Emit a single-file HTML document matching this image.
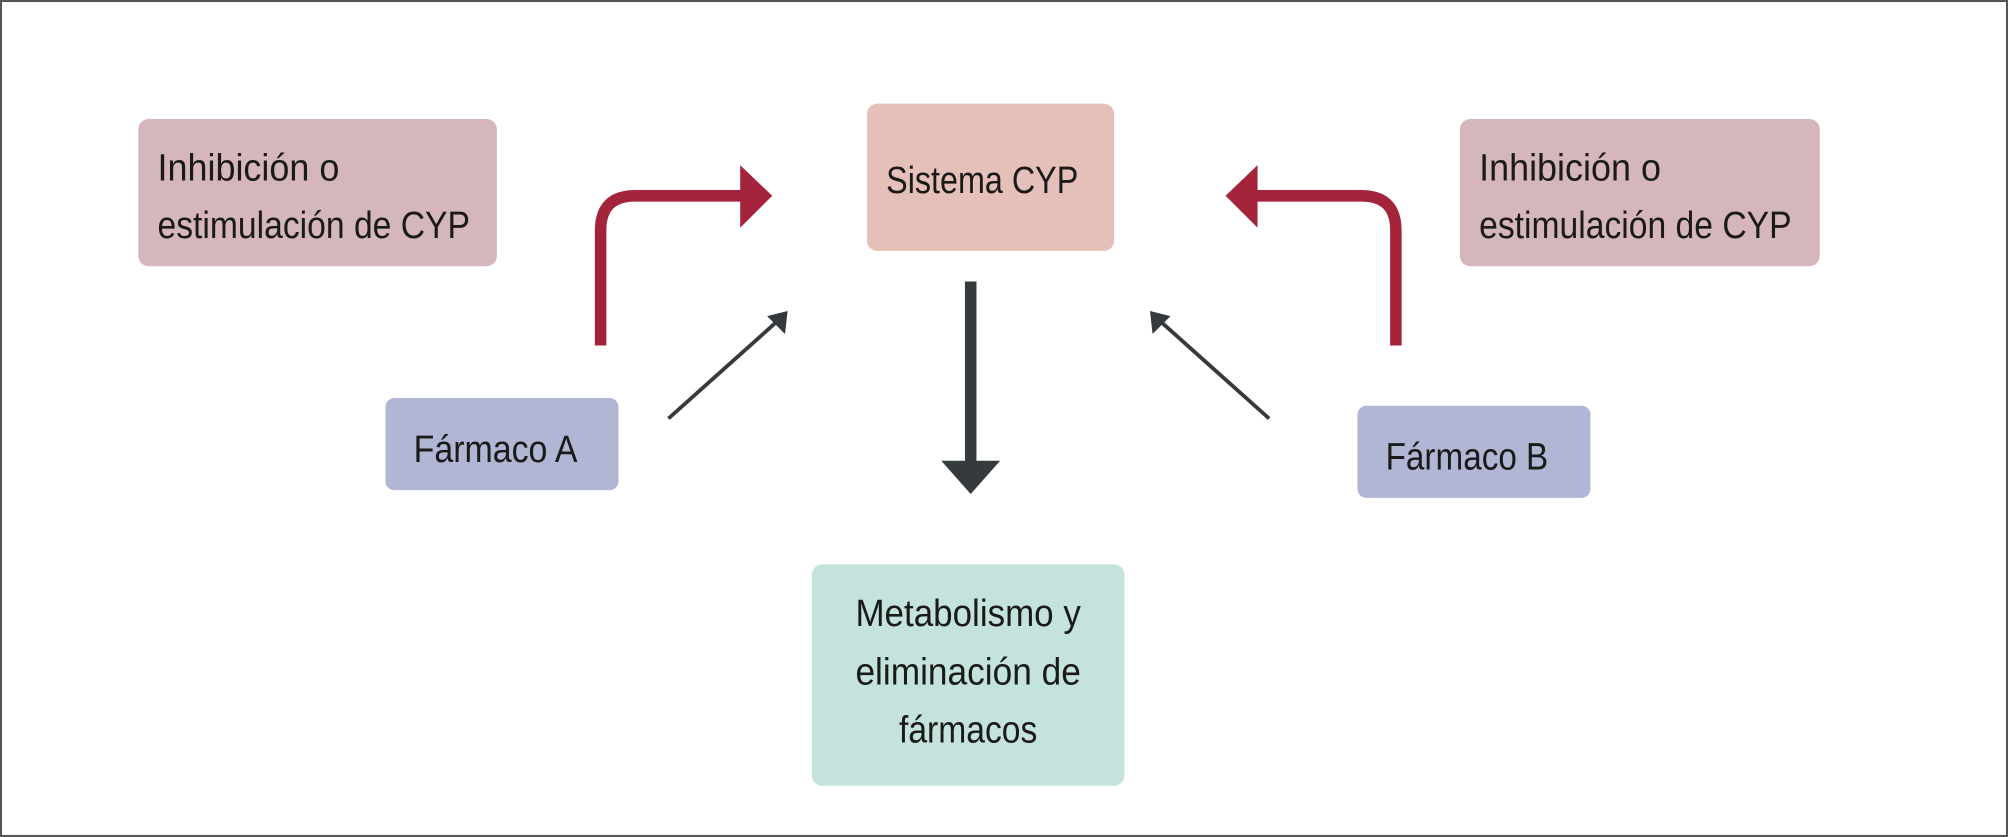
<!DOCTYPE html>
<html><head><meta charset="utf-8"><style>
html,body{margin:0;padding:0;background:#fff;}
svg{display:block;}
text{font-family:"Liberation Sans Narrow","Liberation Sans",sans-serif;font-size:30px;fill:#1a1a1a;}
</style></head><body>
<svg width="2008" height="837" viewBox="0 0 1568 654" preserveAspectRatio="none" xmlns="http://www.w3.org/2000/svg">
<rect x="0.8" y="0.8" width="1566.4" height="652.4" fill="#fff" stroke="#555" stroke-width="1.6"/>
<rect x="108" y="93" width="280" height="115" rx="8" fill="#d4b6bb"/>
<text x="123" y="141" textLength="142" lengthAdjust="spacingAndGlyphs">Inhibición o</text>
<text x="123" y="186" textLength="244" lengthAdjust="spacingAndGlyphs">estimulación de CYP</text>
<rect x="1140" y="93" width="281" height="115" rx="8" fill="#d4b6bb"/>
<text x="1155" y="141" textLength="142" lengthAdjust="spacingAndGlyphs">Inhibición o</text>
<text x="1155" y="186" textLength="244" lengthAdjust="spacingAndGlyphs">estimulación de CYP</text>
<rect x="677" y="81" width="193" height="115" rx="8" fill="#e5c0b8"/>
<text x="692" y="151" textLength="150" lengthAdjust="spacingAndGlyphs">Sistema CYP</text>
<rect x="301" y="311" width="182" height="72" rx="7" fill="#b0b6d3"/>
<text x="323" y="361" textLength="128" lengthAdjust="spacingAndGlyphs">Fármaco A</text>
<rect x="1060" y="317" width="182" height="72" rx="7" fill="#b0b6d3"/>
<text x="1082" y="367" textLength="127" lengthAdjust="spacingAndGlyphs">Fármaco B</text>
<rect x="634" y="441" width="244" height="173" rx="8" fill="#c3e3dc"/>
<text x="756" y="489" text-anchor="middle" textLength="176" lengthAdjust="spacingAndGlyphs">Metabolismo y</text>
<text x="756" y="535" text-anchor="middle" textLength="176" lengthAdjust="spacingAndGlyphs">eliminación de</text>
<text x="756" y="580" text-anchor="middle" textLength="108" lengthAdjust="spacingAndGlyphs">fármacos</text>
<!-- red arrows -->
<path d="M469,270 V180 Q469,153 496,153 H580" fill="none" stroke="#a3243b" stroke-width="9"/>
<polygon points="578,129 603,153 578,178" fill="#a3243b"/>
<path d="M1090,270 V180 Q1090,153 1063,153 H980" fill="none" stroke="#a3243b" stroke-width="9"/>
<polygon points="982,129 957,153 982,178" fill="#a3243b"/>
<!-- dark down arrow -->
<line x1="758" y1="220" x2="758" y2="362" stroke="#353b3d" stroke-width="9"/>
<polygon points="735,360 781,360 758,386" fill="#353b3d"/>
<!-- thin arrows -->
<line x1="522" y1="327" x2="607" y2="251" stroke="#353b3d" stroke-width="3"/>
<polygon points="615,243 613,261 599,247" fill="#353b3d"/>
<line x1="991" y1="327" x2="906" y2="251" stroke="#353b3d" stroke-width="3"/>
<polygon points="898,243 914,247 900,261" fill="#353b3d"/>
</svg>
</body></html>
